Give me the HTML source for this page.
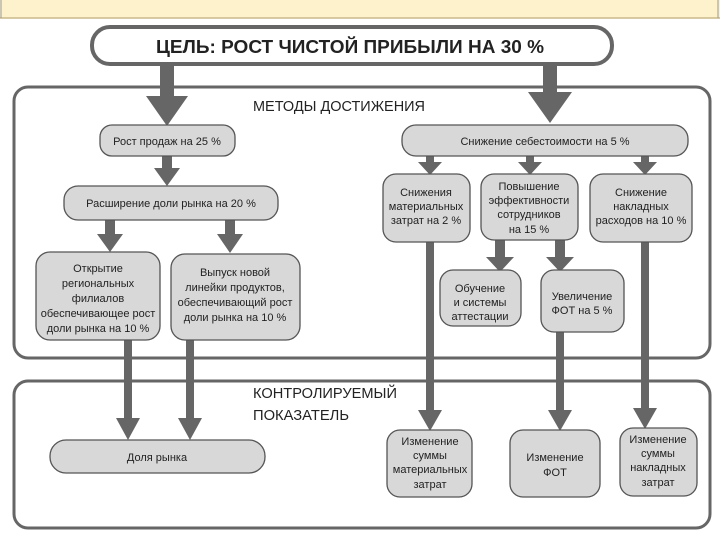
<!DOCTYPE html>
<html><head><meta charset="utf-8"><style>
html,body{margin:0;padding:0;background:#fff}
svg{display:block}
text{font-family:"Liberation Sans",sans-serif;fill:#222}
</style></head><body>
<svg width="720" height="540" viewBox="0 0 720 540" xmlns="http://www.w3.org/2000/svg">
<rect x="0" y="0" width="720" height="18" fill="#fdf2cc"/>
<line x1="0" y1="18" x2="720" y2="18" stroke="#c9b98a" stroke-width="1.5"/>
<line x1="1" y1="0" x2="1" y2="18" stroke="#999" stroke-width="1"/>
<line x1="718" y1="0" x2="718" y2="18" stroke="#999" stroke-width="1"/>

<rect x="14" y="87" width="696" height="271" rx="14" fill="#fff" stroke="#666" stroke-width="3"/>
<rect x="14" y="381" width="696" height="147" rx="14" fill="#fff" stroke="#666" stroke-width="3"/>

<g fill="#666">
<polygon points="160,64 174,64 174,96 188,96 167,126 146,96 160,96"/>
<polygon points="543,64 557,64 557,92 572,92 550,123 528,92 543,92"/>
<polygon points="162,156 172,156 172,168 180,168 167,186 154,168 162,168"/>
<polygon points="105,220 115,220 115,234 123,234 110,252 97,234 105,234"/>
<polygon points="225,220 235,220 235,234 243,234 230,253 217,234 225,234"/>
<polygon points="426,156 434,156 434,162 442,162 430,175 418,162 426,162"/>
<polygon points="526,156 534,156 534,162 542,162 530,175 518,162 526,162"/>
<polygon points="641,156 649,156 649,162 657,162 645,175 633,162 641,162"/>
<polygon points="495,240 505,240 505,257 514,257 500,272 486,257 495,257"/>
<polygon points="555,240 565,240 565,257 574,257 560,272 546,257 555,257"/>
<polygon points="124,340 132,340 132,418 140,418 128,440 116,418 124,418"/>
<polygon points="186,340 194,340 194,418 202,418 190,440 178,418 186,418"/>
<polygon points="426,242 434,242 434,410 442,410 430,431 418,410 426,410"/>
<polygon points="556,332 564,332 564,410 572,410 560,431 548,410 556,410"/>
<polygon points="641,242 649,242 649,408 657,408 645,429 633,408 641,408"/>
</g>

<rect x="92" y="27" width="520" height="37" rx="18" fill="#fff" stroke="#666" stroke-width="4"/>
<text x="350" y="53" font-size="18" font-weight="bold" text-anchor="middle" fill="#111" textLength="388" lengthAdjust="spacingAndGlyphs">ЦЕЛЬ: РОСТ ЧИСТОЙ ПРИБЫЛИ НА 30 %</text>

<text x="253" y="111" font-size="15" textLength="172" lengthAdjust="spacingAndGlyphs">МЕТОДЫ ДОСТИЖЕНИЯ</text>
<text x="253" y="398" font-size="15" textLength="144" lengthAdjust="spacingAndGlyphs">КОНТРОЛИРУЕМЫЙ</text>
<text x="253" y="420" font-size="15" textLength="96" lengthAdjust="spacingAndGlyphs">ПОКАЗАТЕЛЬ</text>

<g fill="#d8d8d8" stroke="#555" stroke-width="1.3">
<rect x="100" y="125" width="135" height="31" rx="12"/>
<rect x="402" y="125" width="286" height="31" rx="14"/>
<rect x="64" y="186" width="214" height="34" rx="14"/>
<rect x="383" y="174" width="87" height="68" rx="13"/>
<rect x="481" y="174" width="97" height="66" rx="13"/>
<rect x="590" y="174" width="102" height="68" rx="13"/>
<rect x="36" y="252" width="124" height="88" rx="14"/>
<rect x="171" y="254" width="129" height="86" rx="14"/>
<rect x="440" y="270" width="81" height="56" rx="13"/>
<rect x="541" y="270" width="83" height="62" rx="13"/>
<rect x="50" y="440" width="215" height="33" rx="16"/>
<rect x="387" y="430" width="85" height="67" rx="13"/>
<rect x="510" y="430" width="90" height="67" rx="13"/>
<rect x="620" y="428" width="77" height="68" rx="13"/>
</g>

<g font-size="11" text-anchor="middle">
<text x="167" y="145">Рост продаж на 25 %</text>
<text x="545" y="145">Снижение себестоимости на 5 %</text>
<text x="171" y="207">Расширение доли рынка на 20 %</text>
<text x="426" y="196">Снижения</text><text x="426" y="210">материальных</text><text x="426" y="224">затрат на 2 %</text>
<text x="529" y="190">Повышение</text><text x="529" y="204">эффективности</text><text x="529" y="218">сотрудников</text><text x="529" y="233">на 15 %</text>
<text x="641" y="196">Снижение</text><text x="641" y="210">накладных</text><text x="641" y="224">расходов на 10 %</text>
<text x="98" y="272">Открытие</text><text x="98" y="287">региональных</text><text x="98" y="302">филиалов</text><text x="98" y="317">обеспечивающее рост</text><text x="98" y="332">доли рынка на 10 %</text>
<text x="235" y="276">Выпуск новой</text><text x="235" y="291">линейки продуктов,</text><text x="235" y="306">обеспечивающий рост</text><text x="235" y="321">доли рынка на 10 %</text>
<text x="480" y="292">Обучение</text><text x="480" y="306">и системы</text><text x="480" y="320">аттестации</text>
<text x="582" y="300">Увеличение</text><text x="582" y="314">ФОТ на 5  %</text>
<text x="157" y="461">Доля рынка</text>
<text x="430" y="445">Изменение</text><text x="430" y="459">суммы</text><text x="430" y="473">материальных</text><text x="430" y="488">затрат</text>
<text x="555" y="461">Изменение</text><text x="555" y="476">ФОТ</text>
<text x="658" y="443">Изменение</text><text x="658" y="457">суммы</text><text x="658" y="471">накладных</text><text x="658" y="486">затрат</text>
</g>
</svg>
</body></html>
